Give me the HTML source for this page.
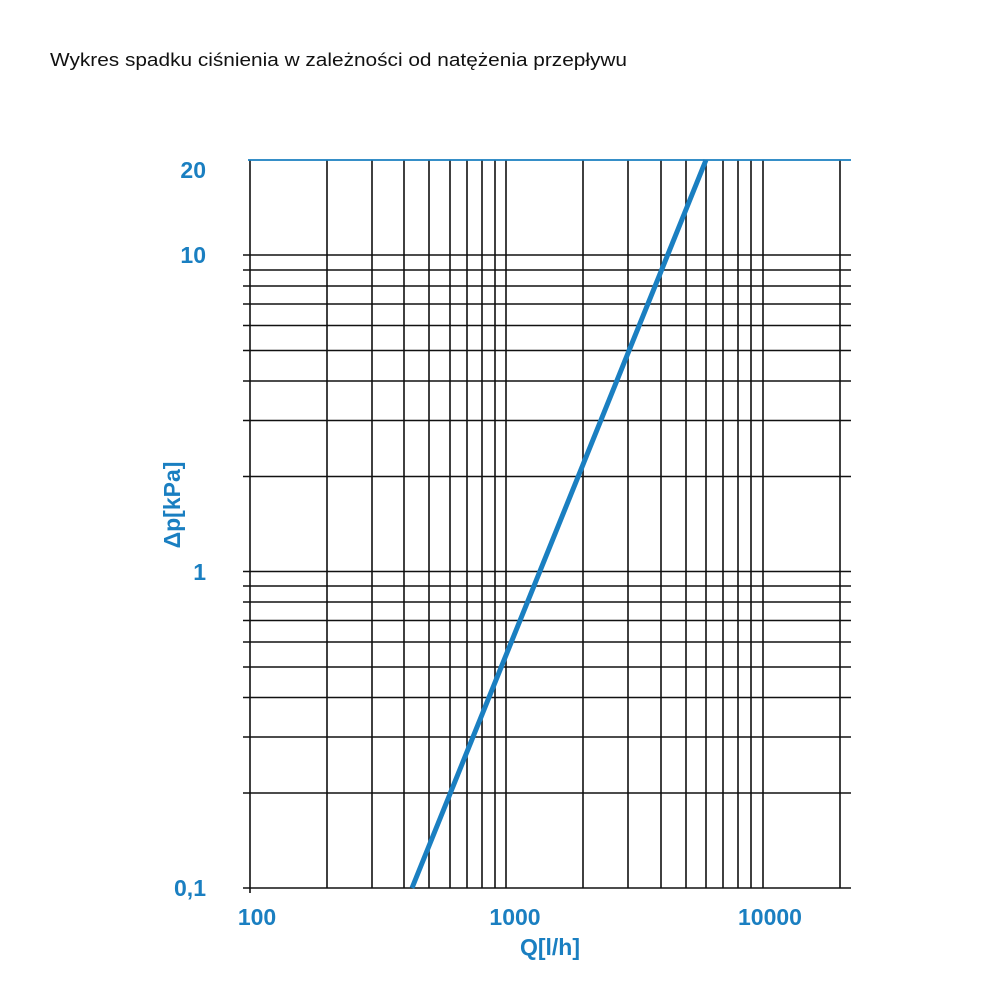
<!DOCTYPE html>
<html><head><meta charset="utf-8"><style>
html,body{margin:0;padding:0;background:#fff;}
svg{display:block;}
</style></head><body>
<svg width="1000" height="1000" xmlns="http://www.w3.org/2000/svg">
<text x="50" y="66" font-family="Liberation Sans, sans-serif" font-size="18" fill="#111" textLength="577" lengthAdjust="spacingAndGlyphs">Wykres spadku ciśnienia w zależności od natężenia przepływu</text>
<g stroke="#111" stroke-width="1.6" fill="none">
<line x1="250" y1="160" x2="250" y2="893"/>
<line x1="327" y1="160" x2="327" y2="888"/>
<line x1="372" y1="160" x2="372" y2="888"/>
<line x1="404" y1="160" x2="404" y2="888"/>
<line x1="429" y1="160" x2="429" y2="888"/>
<line x1="450" y1="160" x2="450" y2="888"/>
<line x1="467" y1="160" x2="467" y2="888"/>
<line x1="482" y1="160" x2="482" y2="888"/>
<line x1="495" y1="160" x2="495" y2="888"/>
<line x1="506" y1="160" x2="506" y2="888"/>
<line x1="583" y1="160" x2="583" y2="888"/>
<line x1="628" y1="160" x2="628" y2="888"/>
<line x1="661" y1="160" x2="661" y2="888"/>
<line x1="686" y1="160" x2="686" y2="888"/>
<line x1="706" y1="160" x2="706" y2="888"/>
<line x1="723" y1="160" x2="723" y2="888"/>
<line x1="738" y1="160" x2="738" y2="888"/>
<line x1="751" y1="160" x2="751" y2="888"/>
<line x1="763" y1="160" x2="763" y2="888"/>
<line x1="840" y1="160" x2="840" y2="888"/>
<line x1="243" y1="888" x2="851" y2="888"/>
<line x1="243" y1="793" x2="851" y2="793"/>
<line x1="243" y1="737" x2="851" y2="737"/>
<line x1="243" y1="697.5" x2="851" y2="697.5"/>
<line x1="243" y1="667" x2="851" y2="667"/>
<line x1="243" y1="642" x2="851" y2="642"/>
<line x1="243" y1="620.5" x2="851" y2="620.5"/>
<line x1="243" y1="602" x2="851" y2="602"/>
<line x1="243" y1="586" x2="851" y2="586"/>
<line x1="243" y1="571.5" x2="851" y2="571.5"/>
<line x1="243" y1="476.5" x2="851" y2="476.5"/>
<line x1="243" y1="420.5" x2="851" y2="420.5"/>
<line x1="243" y1="381" x2="851" y2="381"/>
<line x1="243" y1="350.5" x2="851" y2="350.5"/>
<line x1="243" y1="325.5" x2="851" y2="325.5"/>
<line x1="243" y1="304" x2="851" y2="304"/>
<line x1="243" y1="286" x2="851" y2="286"/>
<line x1="243" y1="270" x2="851" y2="270"/>
<line x1="243" y1="255" x2="851" y2="255"/>
</g>
<line x1="248" y1="160" x2="851" y2="160" stroke="#1a7fc1" stroke-width="1.8"/>
<line x1="412" y1="888" x2="706" y2="160" stroke="#1a7fc1" stroke-width="5"/>
<g font-family="Liberation Sans, sans-serif" font-weight="bold" font-size="23" fill="#1a7fc1">
<text x="206" y="178" text-anchor="end">20</text>
<text x="206" y="263" text-anchor="end">10</text>
<text x="206" y="580" text-anchor="end">1</text>
<text x="206" y="896" text-anchor="end">0,1</text>
<text x="257" y="925" text-anchor="middle">100</text>
<text x="515" y="925" text-anchor="middle">1000</text>
<text x="770" y="925" text-anchor="middle">10000</text>
<text x="550" y="955" text-anchor="middle">Q[l/h]</text>
<text transform="translate(180,505) rotate(-90)" text-anchor="middle">Δp[kPa]</text>
</g>
</svg>
</body></html>
